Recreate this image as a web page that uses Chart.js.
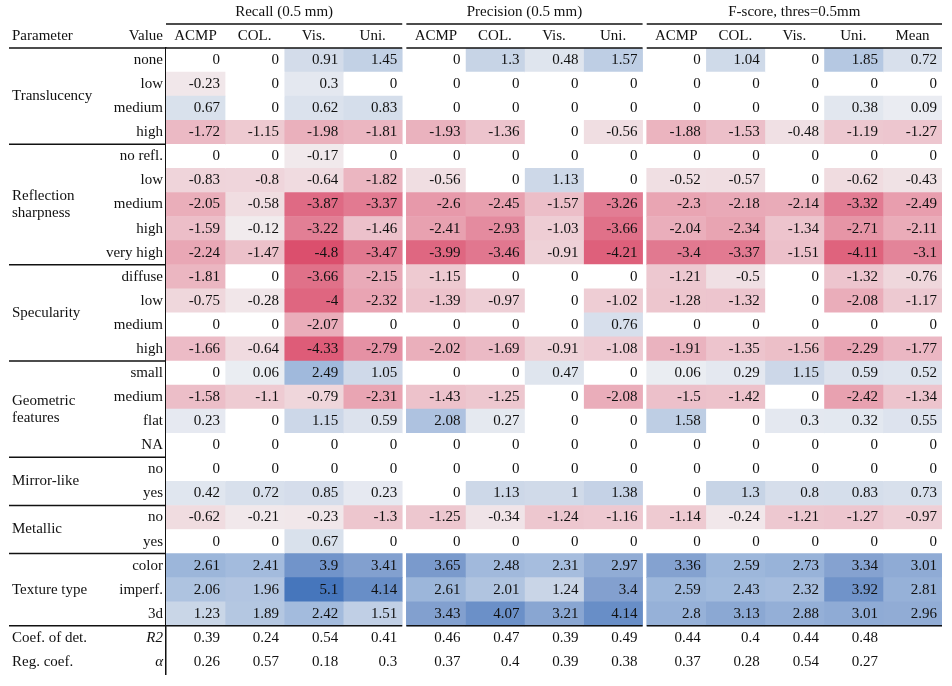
<!DOCTYPE html>
<html>
<head>
<meta charset="utf-8">
<script src="https://cdn.jsdelivr.net/npm/chart.js@4.4.1/dist/chart.umd.min.js"></script>
<style>
    html, body { margin: 0; padding: 0; background: #fff; }
    #wrap { width: 952px; height: 686px; position: relative; }
</style>
</head>
<body>
<div id="wrap"><canvas id="chart"></canvas></div>
<script>
// row labels (value column) and parameter groups
const valueLabels = ['none', 'low', 'medium', 'high',
    'no refl.', 'low', 'medium', 'high', 'very high',
    'diffuse', 'low', 'medium', 'high',
    'small', 'medium', 'flat', 'NA',
    'no', 'yes',
    'no', 'yes',
    'color', 'imperf.', '3d',
    'R2', 'α'];
const parameters = [
    { name: ['Translucency'], first: 0, last: 3 },
    { name: ['Reflection', 'sharpness'], first: 4, last: 8 },
    { name: ['Specularity'], first: 9, last: 12 },
    { name: ['Geometric', 'features'], first: 13, last: 16 },
    { name: ['Mirror-like'], first: 17, last: 18 },
    { name: ['Metallic'], first: 19, last: 20 },
    { name: ['Texture type'], first: 21, last: 23 },
    { name: ['Coef. of det.'], first: 24, last: 24 },
    { name: ['Reg. coef.'], first: 25, last: 25 },
];
const groupTitles = ['Recall (0.5 mm)', 'Precision (0.5 mm)', 'F-score, thres=0.5mm'];
const columnLabels = ['ACMP', 'COL.', 'Vis.', 'Uni.', 'ACMP', 'COL.', 'Vis.', 'Uni.', 'ACMP', 'COL.', 'Vis.', 'Uni.', 'Mean'];
const columnGroup = [0, 0, 0, 0, 1, 1, 1, 1, 2, 2, 2, 2, 2];

// values per column, one entry per heatmap row
const recallACMP = [0, -0.23, 0.67, -1.72, 0, -0.83, -2.05, -1.59, -2.24, -1.81, -0.75, 0, -1.66, 0, -1.58, 0.23, 0, 0, 0.42, -0.62, 0, 2.61, 2.06, 1.23];
const recallCOL = [0, 0, 0, -1.15, 0, -0.8, -0.58, -0.12, -1.47, 0, -0.28, 0, -0.64, 0.06, -1.1, 0, 0, 0, 0.72, -0.21, 0, 2.41, 1.96, 1.89];
const recallVis = [0.91, 0.3, 0.62, -1.98, -0.17, -0.64, -3.87, -3.22, -4.8, -3.66, -4, -2.07, -4.33, 2.49, -0.79, 1.15, 0, 0, 0.85, -0.23, 0.67, 3.9, 5.1, 2.42];
const recallUni = [1.45, 0, 0.83, -1.81, 0, -1.82, -3.37, -1.46, -3.47, -2.15, -2.32, 0, -2.79, 1.05, -2.31, 0.59, 0, 0, 0.23, -1.3, 0, 3.41, 4.14, 1.51];
const precACMP = [0, 0, 0, -1.93, 0, -0.56, -2.6, -2.41, -3.99, -1.15, -1.39, 0, -2.02, 0, -1.43, 2.08, 0, 0, 0, -1.25, 0, 3.65, 2.61, 3.43];
const precCOL = [1.3, 0, 0, -1.36, 0, 0, -2.45, -2.93, -3.46, 0, -0.97, 0, -1.69, 0, -1.25, 0.27, 0, 0, 1.13, -0.34, 0, 2.48, 2.01, 4.07];
const precVis = [0.48, 0, 0, 0, 0, 1.13, -1.57, -1.03, -0.91, 0, 0, 0, -0.91, 0.47, 0, 0, 0, 0, 1, -1.24, 0, 2.31, 1.24, 3.21];
const precUni = [1.57, 0, 0, -0.56, 0, 0, -3.26, -3.66, -4.21, 0, -1.02, 0.76, -1.08, 0, -2.08, 0, 0, 0, 1.38, -1.16, 0, 2.97, 3.4, 4.14];
const fscoreACMP = [0, 0, 0, -1.88, 0, -0.52, -2.3, -2.04, -3.4, -1.21, -1.28, 0, -1.91, 0.06, -1.5, 1.58, 0, 0, 0, -1.14, 0, 3.36, 2.59, 2.8];
const fscoreCOL = [1.04, 0, 0, -1.53, 0, -0.57, -2.18, -2.34, -3.37, -0.5, -1.32, 0, -1.35, 0.29, -1.42, 0, 0, 0, 1.3, -0.24, 0, 2.59, 2.43, 3.13];
const fscoreVis = [0, 0, 0, -0.48, 0, 0, -2.14, -1.34, -1.51, 0, 0, 0, -1.56, 1.15, 0, 0.3, 0, 0, 0.8, -1.21, 0, 2.73, 2.32, 2.88];
const fscoreUni = [1.85, 0, 0.38, -1.19, 0, -0.62, -3.32, -2.71, -4.11, -1.32, -2.08, 0, -2.29, 0.59, -2.42, 0.32, 0, 0, 0.83, -1.27, 0, 3.34, 3.92, 3.01];
const fscoreMean = [0.72, 0, 0.09, -1.27, 0, -0.43, -2.49, -2.11, -3.1, -0.76, -1.17, 0, -1.77, 0.52, -1.34, 0.55, 0, 0, 0.73, -0.97, 0, 3.01, 2.81, 2.96];

// statistics rows (no colour)
const coefDet = [0.39, 0.24, 0.54, 0.41, 0.46, 0.47, 0.39, 0.49, 0.44, 0.4, 0.44, 0.48, null];
const regCoef = [0.26, 0.57, 0.18, 0.3, 0.37, 0.4, 0.39, 0.38, 0.37, 0.28, 0.54, 0.27, null];

const columns = [recallACMP, recallCOL, recallVis, recallUni, precACMP, precCOL, precVis, precUni,
    fscoreACMP, fscoreCOL, fscoreVis, fscoreUni, fscoreMean];

const FONT = '"Liberation Serif", "DejaVu Serif", serif';
const GAP = 0.07;       // space between column groups, in column units
const VMAX = 5.1;
const HEAT_ROWS = 24;

const negStops = [[0, [241, 238, 240]], [0.11, [240, 222, 226]], [0.2, [238, 205, 212]], [0.31, [236, 190, 200]],
    [0.48, [232, 160, 175]], [0.64, [226, 125, 148]], [0.83, [222, 95, 122]], [1, [218, 70, 102]]];
const posStops = [[0, [236, 238, 243]], [0.22, [205, 216, 232]], [0.49, [160, 185, 220]], [0.67, [130, 160, 207]],
    [1, [70, 118, 188]]];

function cellColor(v) {
    if (v === 0) return '#ffffff';
    const stops = v < 0 ? negStops : posStops;
    const t = Math.min(Math.abs(v) / VMAX, 1);
    for (let i = 1; i < stops.length; i++) {
        if (t <= stops[i][0]) {
            const a = stops[i - 1], b = stops[i];
            const f = (t - a[0]) / (b[0] - a[0]);
            const c = a[1].map((x, k) => Math.round(x + (b[1][k] - x) * f));
            return 'rgb(' + c.join(',') + ')';
        }
    }
    return 'rgb(' + stops[stops.length - 1][1].join(',') + ')';
}

function colStart(c) {
    return c + columnGroup[c] * GAP;
}

const datasets = columns.map((values, c) => ({
    label: columnLabels[c],
    data: valueLabels.map((_, r) => r < HEAT_ROWS ? [colStart(c), colStart(c) + 1] : null),
    backgroundColor: valueLabels.map((_, r) => r < HEAT_ROWS ? cellColor(values[r]) : 'transparent'),
    borderWidth: 0,
    grouped: false,
    barPercentage: 1,
    categoryPercentage: 1,
}));

const tablePlugin = {
    id: 'tableText',
    afterDraw(chart) {
        const ctx = chart.ctx;
        const x = chart.scales.x;
        const y = chart.scales.y;
        const area = chart.chartArea;
        const rowH = y.getPixelForValue(1) - y.getPixelForValue(0);
        const groupStart = [0, 4, 8].map(colStart);
        const groupEnd = [4, 8, 13].map((c) => colStart(c - 1) + 1);
        const leftX = 9;

        ctx.save();
        ctx.fillStyle = '#111';
        ctx.strokeStyle = '#111';
        ctx.textBaseline = 'middle';
        ctx.font = '15px ' + FONT;

        // cell values
        columns.forEach((values, c) => {
            const right = x.getPixelForValue(colStart(c) + 1) - 5;
            ctx.textAlign = 'right';
            values.forEach((v, r) => ctx.fillText(String(v), right, y.getPixelForValue(r)));
            [coefDet[c], regCoef[c]].forEach((v, k) => {
                if (v !== null) ctx.fillText(String(v), right, y.getPixelForValue(HEAT_ROWS + k));
            });
        });

        // column headers
        const headY = area.top - 12;
        ctx.textAlign = 'center';
        columnLabels.forEach((lab, c) => ctx.fillText(lab, x.getPixelForValue(colStart(c) + 0.5), headY));
        groupTitles.forEach((t, g) => {
            ctx.fillText(t, (x.getPixelForValue(groupStart[g]) + x.getPixelForValue(groupEnd[g])) / 2, area.top - 36);
        });
        ctx.textAlign = 'left';
        ctx.fillText('Parameter', 12, headY);
        ctx.textAlign = 'right';
        ctx.fillText('Value', area.left - 3, headY);

        // parameter names
        ctx.textAlign = 'left';
        parameters.forEach((p) => {
            const mid = (y.getPixelForValue(p.first) + y.getPixelForValue(p.last)) / 2;
            p.name.forEach((line, i) => {
                ctx.fillText(line, 12, mid + (i - (p.name.length - 1) / 2) * 17);
            });
        });

        // rules
        ctx.lineWidth = 1.5;
        const hline = (x0, x1, yy) => {
            ctx.beginPath();
            ctx.moveTo(x0, yy);
            ctx.lineTo(x1, yy);
            ctx.stroke();
        };
        groupStart.forEach((s, g) => hline(x.getPixelForValue(s), x.getPixelForValue(groupEnd[g]), area.top - 24));
        const bottomRule = y.getPixelForValue(HEAT_ROWS - 1) + rowH / 2;
        [area.top, bottomRule].forEach((yy) => {
            groupStart.forEach((s, g) => {
                hline(g === 0 ? leftX : x.getPixelForValue(s), x.getPixelForValue(groupEnd[g]), yy);
            });
        });
        parameters.slice(0, 6).forEach((p) => {
            hline(leftX, area.left, y.getPixelForValue(p.last) + rowH / 2);
        });
        ctx.restore();
    }
};

new Chart(document.getElementById('chart'), {
    type: 'bar',
    data: {
        labels: valueLabels,
        datasets: datasets
    },
    options: {
        indexAxis: 'y',
        maintainAspectRatio: false,
        responsive: true,
        animation: false,
        layout: {
            padding: { top: 48, bottom: 10, left: 6, right: 10 }
        },
        scales: {
            x: {
                type: 'linear',
                min: 0,
                max: 13 + 2 * GAP,
                display: false
            },
            y: {
                type: 'category',
                offset: true,
                afterFit: (scale) => { scale.width = 160; },
                grid: {
                    display: false,
                    drawTicks: false
                },
                border: {
                    display: true,
                    color: '#111',
                    width: 1.5
                },
                ticks: {
                    autoSkip: false,
                    padding: 3,
                    color: '#111',
                    font: (c) => ({
                        family: FONT,
                        size: 15,
                        style: c.index >= HEAT_ROWS ? 'italic' : 'normal'
                    })
                }
            }
        },
        plugins: {
            legend: { display: false },
            tooltip: { enabled: false }
        }
    },
    plugins: [tablePlugin]
});
</script>
</body>
</html>
